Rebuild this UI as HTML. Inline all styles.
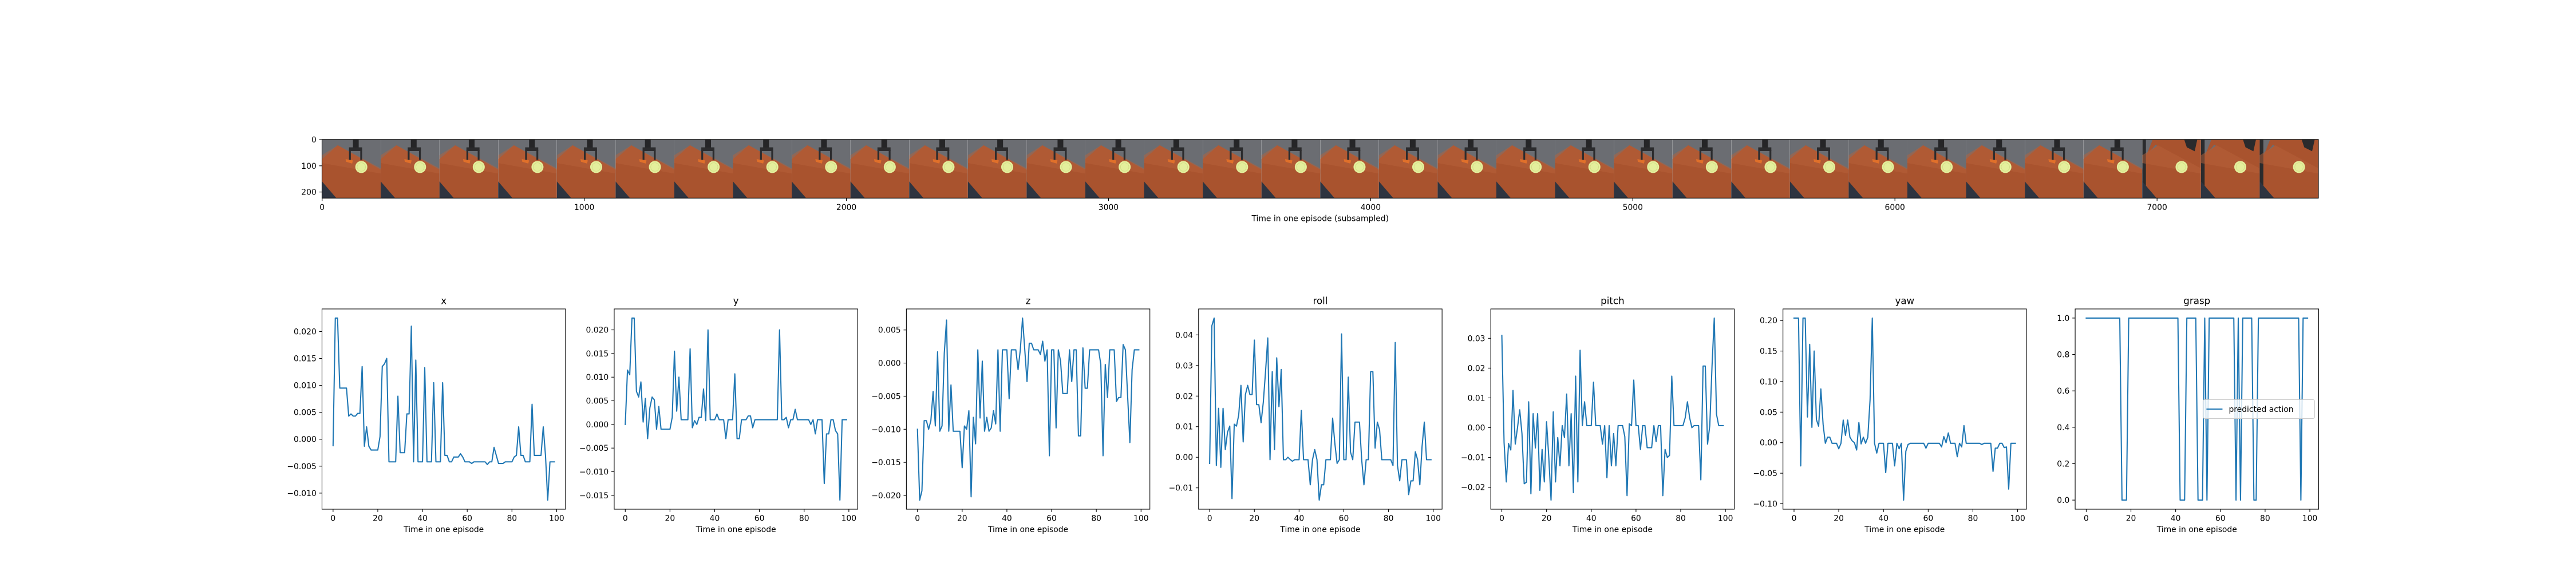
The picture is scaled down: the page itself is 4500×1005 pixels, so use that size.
<!DOCTYPE html>
<html><head><meta charset="utf-8"><style>
html,body{margin:0;padding:0;background:#fff;}
svg text{font-family:"DejaVu Sans","Liberation Sans",sans-serif;fill:#000;}
</style></head><body>
<svg id="fig" xmlns="http://www.w3.org/2000/svg" width="4500" height="1000" viewBox="0 0 4500 1000">
<rect width="4500" height="1000" fill="#fff"/>
<g id="strip"></g>
<g id="plots"></g>
</svg>
<script>
const NS="http://www.w3.org/2000/svg";
// ---- strip data ----
const stripXTicks=[0,1000,2000,3000,4000,5000,6000,7000];
const stripYTicks=[0,100,200];
const frameCount=34;
// ---- action data ----
const steps=[...Array(100).keys()];
const xTickVals=[0,20,40,60,80,100];
const seriesX=[-0.0012,0.0225,0.0225,0.0095,0.0095,0.0095,0.0095,0.0043,0.0047,0.0043,0.0043,0.0048,0.0048,0.0135,-0.0013,0.0023,-0.0013,-0.002,-0.002,-0.002,-0.002,0.0005,0.0135,0.014,0.015,-0.0042,-0.0042,-0.0042,-0.0042,0.008,-0.0025,-0.0025,-0.0025,0.0047,0.0047,0.021,-0.0042,0.0147,-0.0042,-0.0042,-0.0042,0.0133,-0.0042,-0.0042,-0.0042,0.0105,-0.0042,-0.0042,-0.0042,0.0105,-0.003,-0.003,-0.0042,-0.0042,-0.0033,-0.0033,-0.0033,-0.0027,-0.0033,-0.0042,-0.0042,-0.0042,-0.0045,-0.0042,-0.0042,-0.0042,-0.0042,-0.0042,-0.0042,-0.0047,-0.0042,-0.0042,-0.0015,-0.003,-0.0045,-0.0045,-0.0045,-0.0042,-0.0042,-0.0042,-0.0042,-0.0033,-0.003,0.0023,-0.003,-0.003,-0.0042,-0.0042,-0.0042,0.0065,-0.003,-0.003,-0.003,-0.003,0.0023,-0.003,-0.0113,-0.0042,-0.0042,-0.0042];
const seriesY=[0,0.0115,0.0105,0.0225,0.0225,0.007,0.0058,0.009,0.0005,0.0055,-0.003,0.0035,0.0058,0.0052,-0.001,0.0038,-0.001,-0.001,-0.001,-0.001,-0.001,0.0015,0.0155,0.0028,0.01,0.001,0.001,0.001,0.001,0.016,-0.0007,0.0008,0,0.0015,0.0015,0.0075,0.0008,0.02,0.001,0.001,0.001,0.0022,0.001,0.001,0.001,-0.003,0.001,0.001,0.001,0.0107,-0.003,-0.003,0.001,0.001,0.001,0.0018,0.0018,-0.0007,0.001,0.001,0.001,0.001,0.001,0.001,0.001,0.001,0.001,0.001,0.001,0.02,0.001,0.001,0.0015,-0.0007,0.001,0.001,0.0032,0.001,0.001,0.001,0.001,0.001,0.001,0,0.001,-0.002,0.001,0.001,0.001,-0.0125,-0.002,-0.002,0.001,0.001,-0.0013,-0.002,-0.016,0.001,0.001,0.001];
const seriesZ=[-0.01,-0.0207,-0.0193,-0.0087,-0.0087,-0.01,-0.0087,-0.0043,-0.0095,0.0017,-0.0103,-0.0095,0.0015,0.0065,-0.0103,-0.0033,-0.0103,-0.0103,-0.0103,-0.0103,-0.0158,-0.0095,-0.01,-0.0072,-0.0202,-0.0082,-0.0122,0.002,-0.0083,0.0003,-0.0103,-0.0082,-0.0103,-0.0098,-0.0072,-0.0092,0.002,-0.0103,0.002,0.002,0.002,-0.0054,0.002,0.002,0.002,-0.001,0.002,0.0068,0.002,-0.0028,0.003,0.003,0.002,0.002,0.002,0.0013,0.0033,0.0003,0.002,-0.014,0.002,0.002,-0.0098,0.002,0.0003,-0.0046,-0.0046,-0.0046,0.002,-0.0028,0.002,0.002,-0.011,-0.011,0.0023,-0.0038,-0.0038,0.002,0.002,0.002,0.002,0.002,-0.0002,-0.014,-0.0002,-0.0052,0.002,0.002,0.002,-0.0058,-0.0052,-0.0052,0.0028,0.002,-0.005,-0.012,-0.001,0.002,0.002,0.002];
const seriesRoll=[-0.002,0.043,0.0455,-0.0027,0.016,-0.0033,0.016,0.0025,0.0082,0.0102,-0.0135,0.0108,0.0102,0.0138,0.0235,0.005,0.0205,0.0235,0.0205,0.0205,0.0383,0.0172,0.0172,0.0113,0.018,0.028,0.039,-0.0008,0.028,0.0025,0.0325,0.0165,0.0287,-0.0008,-0.0008,0,-0.0007,-0.0013,-0.0008,-0.0008,-0.0008,0.0153,-0.0008,-0.0008,-0.0008,-0.009,-0.0008,0.0025,-0.0008,-0.014,-0.009,-0.009,-0.0008,-0.0008,-0.0008,0.0128,0.0045,-0.002,-0.0008,0.0403,-0.0008,-0.0008,0.0262,0.0017,-0.0008,0.0115,0.0115,0.0115,-0.0008,-0.009,-0.0008,-0.0008,0.028,0.028,0.003,0.0115,0.009,-0.0008,-0.0008,-0.0008,-0.0008,-0.0008,-0.0027,0.0375,-0.0027,-0.0077,-0.0008,-0.0008,-0.0008,-0.0122,-0.0077,-0.0077,0.0018,-0.0008,-0.009,0.0035,0.0115,-0.0008,-0.0008,-0.0008];
const seriesPitch=[0.031,-0.005,-0.0182,-0.0053,-0.0075,0.0125,-0.0055,0,0.006,-0.002,-0.0188,-0.0183,0.0087,-0.0222,0.0047,-0.0068,0.0047,-0.021,-0.0073,-0.0182,0.002,-0.01,-0.0243,0.0053,-0.0182,-0.0033,-0.0128,0.0007,-0.0033,0.0113,-0.0128,0.0047,-0.0218,0.0173,-0.0182,0.026,0.0007,0.0087,0.0007,0.0007,0.0007,0.0153,0.0007,0.0007,0.0007,-0.0055,0.0007,-0.0168,0.0007,-0.0128,-0.002,-0.0128,0.0007,0.0007,0.0007,-0.003,-0.0228,0.0013,0.0007,0.016,0.0007,0.0007,-0.0073,0.0007,0.0007,-0.0067,-0.0067,-0.0067,0.0007,-0.0047,0.0007,0.0007,-0.0228,-0.0073,-0.01,-0.0093,0.0173,0.0007,0.0007,0.0007,0.0007,0.0007,0.0033,0.0087,0.0033,0,0.0007,0.0007,0.0007,-0.0175,0.0207,0.0207,-0.0055,0.0007,0.0207,0.0368,0.0045,0.0007,0.0007,0.0007];
const seriesYaw=[0.204,0.204,0.204,-0.038,0.204,0.204,0.042,0.161,0.025,0.15,0.038,0.027,0.088,0.03,-0.001,0.009,0.009,-0.001,-0.001,-0.001,-0.01,-0.001,0.037,0.012,0.037,0.009,0.003,0,-0.012,0.033,-0.002,0.009,-0.001,0.009,0.07,0.204,-0.001,-0.017,-0.001,-0.001,-0.001,-0.049,-0.001,-0.001,-0.001,-0.038,-0.001,-0.01,-0.001,-0.094,-0.014,-0.003,-0.001,-0.001,-0.001,-0.001,-0.001,-0.001,-0.001,-0.009,-0.001,-0.001,-0.001,-0.001,-0.001,-0.001,-0.007,0.01,0,0.016,-0.001,-0.001,-0.001,-0.023,-0.001,-0.007,0.028,-0.001,-0.001,-0.001,-0.001,-0.001,-0.001,-0.001,-0.003,-0.001,-0.001,-0.001,-0.001,-0.047,-0.009,-0.009,-0.001,-0.001,-0.008,-0.007,-0.076,-0.001,-0.001,-0.001];
const seriesGrasp=[1,1,1,1,1,1,1,1,1,1,1,1,1,1,1,1,0,0,0,1,1,1,1,1,1,1,1,1,1,1,1,1,1,1,1,1,1,1,1,1,1,1,0,0,0,1,1,1,1,1,0,0,0,1,0,1,1,1,1,1,1,1,1,1,1,1,1,0,1,0,1,1,1,1,1,0,0,1,1,1,1,1,1,1,1,1,1,1,1,1,1,1,1,1,1,1,0,1,1,1];
const plotTitles=["x","y","z","roll","pitch","yaw","grasp"];
const ticksX=[-0.010,-0.005,0,0.005,0.010,0.015,0.020];
const ticksY=[-0.015,-0.010,-0.005,0,0.005,0.010,0.015,0.020];
const ticksZ=[-0.020,-0.015,-0.010,-0.005,0,0.005];
const ticksRoll=[-0.01,0,0.01,0.02,0.03,0.04];
const ticksPitch=[-0.02,-0.01,0,0.01,0.02,0.03];
const ticksYaw=[-0.10,-0.05,0,0.05,0.10,0.15,0.20];
const ticksGrasp=[0,0.2,0.4,0.6,0.8,1.0];

function el(tag,attrs,parent){const e=document.createElementNS(NS,tag);for(const k in attrs)e.setAttribute(k,attrs[k]);parent.appendChild(e);return e;}
function fmt(v,d){const s=Math.abs(v).toFixed(d);return (v<0?"\u2212":"")+s;}

// ---------- strip ----------
const strip=document.getElementById('strip');
const SL=562.5,SR=4050,ST=243.8,SB=346.3;
const sxScale=(SR-SL)/7616;
const sx=v=>SL+(v+0.5)*sxScale, sy=v=>ST+(v+0.5)*sxScale;
const defs=el('defs',{},strip);
const cp=el('clipPath',{id:'fc'},defs);
el('rect',{x:0,y:0,width:224,height:224},cp);
for(let i=0;i<frameCount;i++){
  const g=el('g',{transform:`translate(${SL+i*224*sxScale},${ST}) scale(${sxScale})`,'clip-path':'url(#fc)'},strip);
  
  
  const late=i>=31;
  el('rect',{x:0,y:0,width:224,height:224,fill:'#6b6d72'},g);
  el('polygon',{points:late?'12,70 40,0 224,0 224,120 50,20':'0,75 60,22 224,115 224,224 0,224',fill:'#a9532e'},g);
  if(late){el('polygon',{points:'12,60 60,22 224,115 224,224 12,224',fill:'#a9532e'},g);el('rect',{x:0,y:0,width:14,height:224,fill:'#2a2b2d'},g);}
  el('polygon',{points:'0,60 60,22 224,110 224,130 0,90',fill:'#b8623a',opacity:0.5},g);
  el('polygon',{points:'0,160 0,224 55,224',fill:'#2e3440'},g);
  el('circle',{cx:150,cy:105,r:23,fill:'#e4ef9c'},g);
  el('circle',{cx:150,cy:105,r:16,fill:'none',stroke:'#d3dc86','stroke-width':2},g);
  if(!late){
    el('rect',{x:118-(i%3)*3,y:0,width:22,height:35,fill:'#252527'},g);
    el('rect',{x:103,y:30,width:50,height:14,fill:'#2b2b2d'},g);
    el('rect',{x:103,y:40,width:7,height:38,fill:'#2b2b2d'},g);
    el('rect',{x:146,y:40,width:7,height:38,fill:'#2b2b2d'},g);
    el('polygon',{points:'90,75 118,80 115,92 92,85',fill:'#e0702a'},g);
  } else {
    el('polygon',{points:'160,0 210,0 200,45 170,30',fill:'#2a2a2c'},g);
  }
}
el('rect',{x:SL,y:ST,width:SR-SL,height:SB-ST,fill:'none',stroke:'#000','stroke-width':1.1},strip);
stripXTicks.forEach(v=>{
  const x=sx(v);
  const t=el('line',{x1:x,x2:x,y1:SB,y2:SB+4.9,stroke:'#000','stroke-width':1.1},strip);
  
  const l=el('text',{x:x,y:SB+20.5,'font-size':13.9,'text-anchor':'middle'},strip);l.textContent=v;
  
});
stripYTicks.forEach(v=>{
  const y=sy(v);
  el('line',{x1:SL,x2:SL-4.9,y1:y,y2:y,stroke:'#000','stroke-width':1.1},strip);
  const l=el('text',{x:SL-9.7,y:y+5,'font-size':13.9,'text-anchor':'end'},strip);l.textContent=v;
  
});
const sxl=el('text',{x:(SL+SR)/2,y:SB+40,'font-size':13.9,'text-anchor':'middle'},strip);
sxl.textContent='Time in one episode (subsampled)';


// ---------- subplots ----------
const plots=document.getElementById('plots');
const allSeries=[seriesX,seriesY,seriesZ,seriesRoll,seriesPitch,seriesYaw,seriesGrasp];
const allTicks=[ticksX,ticksY,ticksZ,ticksRoll,ticksPitch,ticksYaw,ticksGrasp];
const decimals=[3,3,3,2,2,2,1];
const W=425.36,SP=510.43,PT=540,PB=890;
allSeries.forEach((data,k)=>{
  const L=562.5+k*SP,R=L+W;
  const g=el('g',{},plots);
  
  
  const mn=Math.min(...data),mx=Math.max(...data),pad=(mx-mn)*0.05;
  const y0=mn-pad,y1=mx+pad;
  const x0=-4.95,x1=103.95;
  const px=v=>L+(v-x0)/(x1-x0)*W;
  const py=v=>PB-(v-y0)/(y1-y0)*(PB-PT);
  el('rect',{x:L,y:PT,width:W,height:PB-PT,fill:'#fff'},g);
  const pts=steps.map(i=>px(i).toFixed(2)+','+py(data[i]).toFixed(2)).join(' ');
  const line=el('polyline',{points:pts,fill:'none',stroke:'#1f77b4','stroke-width':2.08,'stroke-linejoin':'round','stroke-linecap':'square'},g);
  
  
  el('rect',{x:L,y:PT,width:W,height:PB-PT,fill:'none',stroke:'#000','stroke-width':1.1},g);
  xTickVals.forEach(v=>{
    const x=px(v);
    el('line',{x1:x,x2:x,y1:PB,y2:PB+4.9,stroke:'#000','stroke-width':1.1},g);
    const t=el('text',{x:x,y:PB+20.5,'font-size':13.9,'text-anchor':'middle'},g);t.textContent=v;
    
  });
  allTicks[k].forEach(v=>{
    const y=py(v);
    el('line',{x1:L,x2:L-4.9,y1:y,y2:y,stroke:'#000','stroke-width':1.1},g);
    const t=el('text',{x:L-9.7,y:y+5,'font-size':13.9,'text-anchor':'end'},g);t.textContent=fmt(v,decimals[k]);
    
  });
  const ti=el('text',{x:L+W/2,y:PT-8.3,'font-size':16.7,'text-anchor':'middle'},g);ti.textContent=plotTitles[k];
  
  const xl=el('text',{x:L+W/2,y:PB+40,'font-size':13.9,'text-anchor':'middle'},g);xl.textContent='Time in one episode';
  
  if(k===6){
    const lg=el('g',{},g);
    
    
    const lw=195,lh=33,lx=R-7-lw,ly=(PT+PB)/2-lh/2;
    el('rect',{x:lx,y:ly,width:lw,height:lh,rx:3,fill:'#fff','fill-opacity':0.8,stroke:'#ccc','stroke-width':1.1},lg);
    el('line',{x1:lx+6,x2:lx+34,y1:ly+lh/2,y2:ly+lh/2,stroke:'#1f77b4','stroke-width':2.08},lg);
    const lt=el('text',{x:lx+45,y:ly+lh/2+5,'font-size':13.9},lg);lt.textContent='predicted action';
    
  }
});
</script>
</body></html>
